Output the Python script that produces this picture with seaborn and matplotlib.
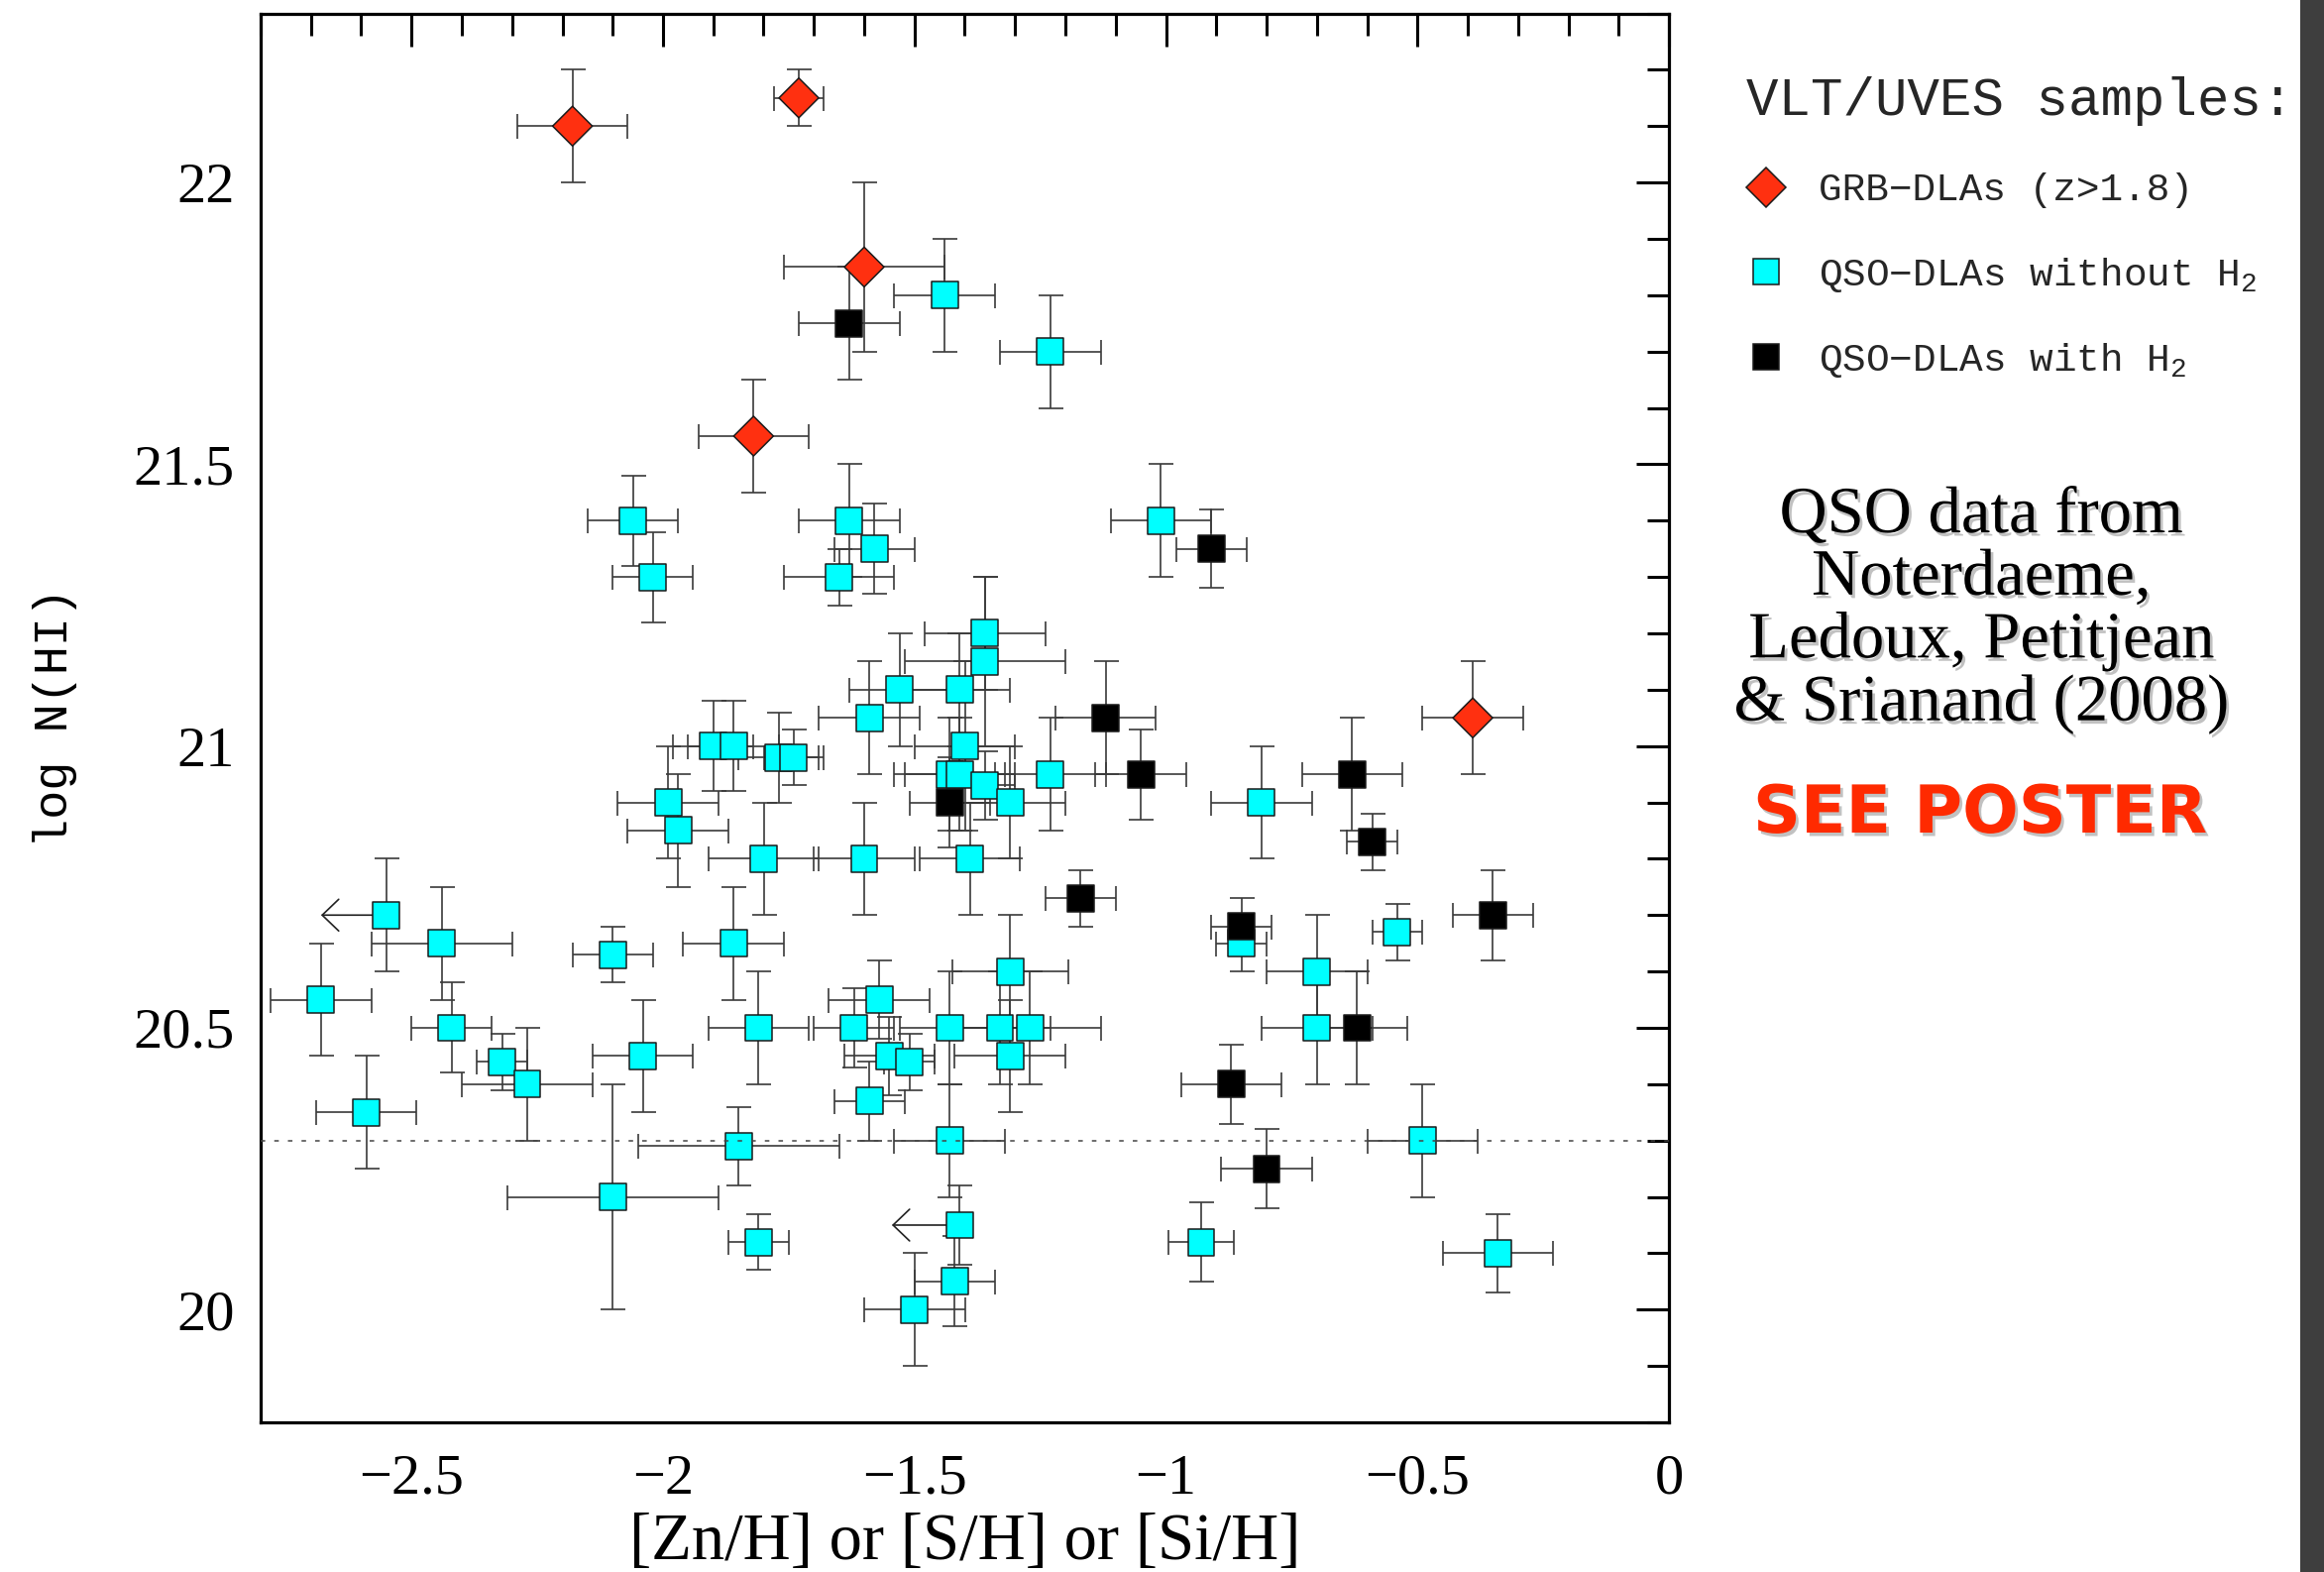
import numpy as np
import pandas as pd
import matplotlib
matplotlib.use("Agg")
import matplotlib.pyplot as plt
import seaborn as sns
from matplotlib.lines import Line2D
from matplotlib.ticker import MultipleLocator, FuncFormatter
from matplotlib.font_manager import FontProperties
from matplotlib.patches import Rectangle
import matplotlib.patheffects as pe

# ---- GRB-DLAs (z>1.8) ----
grb_x = [-2.18, -1.73, -1.60, -1.82, -0.39]
grb_y = [22.10, 22.15, 21.85, 21.55, 21.05]
grb_xerr = [0.11, 0.05, 0.16, 0.11, 0.10]
grb_yerr = [0.10, 0.05, 0.15, 0.10, 0.10]

# ---- QSO-DLAs with H2 ----
h2_x = [-1.63, -0.91, -1.12, -1.05, -1.43, -0.63, -0.59, -1.17, -0.85, -0.35, -0.62, -0.87, -0.80]
h2_y = [21.75, 21.35, 21.05, 20.95, 20.90, 20.95, 20.83, 20.73, 20.68, 20.70, 20.50, 20.40, 20.25]
h2_xerr = [0.10, 0.07, 0.10, 0.09, 0.08, 0.10, 0.05, 0.07, 0.06, 0.08, 0.10, 0.10, 0.09]
h2_yerr = [0.10, 0.07, 0.10, 0.08, 0.08, 0.10, 0.05, 0.05, 0.05, 0.08, 0.10, 0.07, 0.07]

# ---- QSO-DLAs without H2 ----
noh2_x = [-1.44, -1.23, -2.06, -2.02, -1.63, -1.58, -1.65, -1.01, -1.36, -1.36,
          -1.53, -1.41, -1.59, -1.40, -1.90, -1.86, -1.77, -1.74, -1.43, -1.41,
          -1.36, -1.31, -1.23, -1.99, -1.97, -1.80, -1.60, -1.39, -0.81, -2.68,
          -2.44, -2.10, -1.86, -2.42, -2.32, -2.27, -2.04, -2.59, -2.10, -1.85,
          -1.81, -1.81, -1.57, -1.62, -1.55, -1.51, -1.59, -1.43, -1.33, -1.27,
          -1.31, -1.31, -1.43, -1.42, -1.50, -0.85, -0.70, -0.70, -0.54, -0.49,
          -0.93, -0.34]
noh2_y = [21.80, 21.70, 21.40, 21.30, 21.40, 21.35, 21.30, 21.40, 21.20, 21.15,
          21.10, 21.10, 21.05, 21.00, 21.00, 21.00, 20.98, 20.98, 20.95, 20.95,
          20.93, 20.90, 20.95, 20.90, 20.85, 20.80, 20.80, 20.80, 20.90, 20.55,
          20.65, 20.63, 20.65, 20.50, 20.44, 20.40, 20.45, 20.35, 20.20, 20.29,
          20.50, 20.12, 20.55, 20.50, 20.45, 20.44, 20.37, 20.50, 20.50, 20.50,
          20.60, 20.45, 20.30, 20.05, 20.00, 20.65, 20.60, 20.50, 20.67, 20.30,
          20.12, 20.10]
noh2_xerr = [0.10, 0.10, 0.09, 0.08, 0.10, 0.08, 0.11, 0.10, 0.12, 0.16,
             0.10, 0.10, 0.10, 0.10, 0.08, 0.09, 0.08, 0.06, 0.11, 0.11,
             0.06, 0.11, 0.11, 0.10, 0.10, 0.11, 0.10, 0.10, 0.10, 0.10,
             0.14, 0.08, 0.10, 0.08, 0.05, 0.13, 0.10, 0.10, 0.21, 0.20,
             0.10, 0.06, 0.10, 0.08, 0.09, 0.05, 0.07, 0.10, 0.10, 0.14,
             0.115, 0.11, 0.11, 0.08, 0.10, 0.05, 0.10, 0.11, 0.05, 0.11,
             0.065, 0.11]
noh2_yerr = [0.10, 0.10, 0.08, 0.08, 0.10, 0.08, 0.05, 0.10, 0.10, 0.15,
             0.10, 0.10, 0.10, 0.15, 0.08, 0.08, 0.08, 0.05, 0.10, 0.10,
             0.06, 0.10, 0.10, 0.10, 0.10, 0.10, 0.10, 0.10, 0.10, 0.10,
             0.10, 0.05, 0.10, 0.08, 0.05, 0.10, 0.10, 0.10, 0.20, 0.07,
             0.10, 0.05, 0.07, 0.07, 0.07, 0.05, 0.07, 0.10, 0.10, 0.10,
             0.10, 0.10, 0.10, 0.08, 0.10, 0.05, 0.10, 0.10, 0.05, 0.10,
             0.07, 0.07]

# QSO-DLAs without H2 with only an upper limit on the metallicity
lim_x = [-2.55, -1.41]
lim_y = [20.70, 20.15]
lim_yerr = [0.10, 0.07]
lim_to = [-2.68, -1.545]

DLA_THRESHOLD = 20.3

CYAN = "#00ffff"
BLACK = "#000000"
RED = "#ff3010"
EDGE = "#1a1a1a"
ERR = "#3a3a3a"

sns.set_theme(style="white")
plt.rcParams["font.family"] = ["Liberation Serif", "DejaVu Serif"]
plt.rcParams["mathtext.fontset"] = "custom"
plt.rcParams["mathtext.rm"] = "Liberation Mono"
plt.rcParams["mathtext.it"] = "Liberation Mono"
plt.rcParams["axes.unicode_minus"] = True

fig = plt.figure(figsize=(23.45, 15.86), dpi=100)
fig.patch.set_facecolor("white")
ax = fig.add_axes([263 / 2345, 1 - 1435 / 1586, (1684 - 263) / 2345, (1435 - 13.5) / 1586])
ax.set_facecolor("white")

# error bars first, markers on top
err_kw = dict(fmt="none", ecolor=ERR, elinewidth=1.2, capsize=9, capthick=1.2, zorder=2)
ax.errorbar(noh2_x, noh2_y, xerr=noh2_xerr, yerr=noh2_yerr, **err_kw)
ax.errorbar(lim_x, lim_y, yerr=lim_yerr, **err_kw)
ax.errorbar(h2_x, h2_y, xerr=h2_xerr, yerr=h2_yerr, **err_kw)
ax.errorbar(grb_x, grb_y, xerr=grb_xerr, yerr=grb_yerr, **err_kw)

for x0, y0, x1 in zip(lim_x, lim_y, lim_to):
    ax.annotate("", xy=(x1, y0), xytext=(x0, y0),
                arrowprops=dict(arrowstyle="->,head_length=1.2,head_width=1.15",
                                color="#222222", lw=1.2, shrinkA=0, shrinkB=0,
                                mutation_scale=10),
                zorder=2)

df = pd.concat([
    pd.DataFrame({"metal": noh2_x + lim_x, "logNHI": noh2_y + lim_y, "sample": "noH2"}),
    pd.DataFrame({"metal": h2_x, "logNHI": h2_y, "sample": "H2"}),
    pd.DataFrame({"metal": grb_x, "logNHI": grb_y, "sample": "GRB"}),
], ignore_index=True)

sns.scatterplot(data=df, x="metal", y="logNHI", hue="sample", style="sample", size="sample",
                palette={"noH2": CYAN, "H2": BLACK, "GRB": RED},
                markers={"noH2": "s", "H2": "s", "GRB": "D"},
                sizes={"noH2": 19.4 ** 2, "H2": 19.4 ** 2, "GRB": 20.4 ** 2},
                edgecolor=EDGE, linewidth=1.1, legend=False, ax=ax, zorder=3)

ax.axhline(DLA_THRESHOLD, color="#444444", lw=1.1, dashes=(3, 6), zorder=4)

ax.set_xlim(-2.8, 0)
ax.set_ylim(19.8, 22.3)
ax.xaxis.set_major_locator(MultipleLocator(0.5))
ax.xaxis.set_minor_locator(MultipleLocator(0.1))
ax.yaxis.set_major_locator(MultipleLocator(0.5))
ax.yaxis.set_minor_locator(MultipleLocator(0.1))
fmt = FuncFormatter(lambda v, p: f"{v:g}".replace("-", "\u2212"))
ax.xaxis.set_major_formatter(fmt)
ax.yaxis.set_major_formatter(fmt)
ax.tick_params(which="both", direction="in", top=True, right=True, color="black",
               labelcolor="black", labelsize=42, width=2.2)
ax.tick_params(which="major", length=24)
ax.tick_params(which="minor", length=15.5)
ax.tick_params(axis="x", pad=23)
ax.tick_params(axis="y", pad=19)
for sp in ax.spines.values():
    sp.set_color("black")
    sp.set_linewidth(2.3)
    sp.set_visible(True)

ax.set_xlabel("[Zn/H] or [S/H] or [Si/H]", fontsize=48, color="black")
ax.xaxis.set_label_coords(0.5, -0.064)
ax.set_ylabel("log N(HI)", fontsize=35, family="Liberation Mono", color="black")
ax.yaxis.set_label_coords(-0.13, 0.5)

# legend
handles = [
    Line2D([], [], ls="none", marker="D", markersize=20.4, mfc=RED, mec=EDGE, mew=1.1),
    Line2D([], [], ls="none", marker="s", markersize=19.4, mfc=CYAN, mec=EDGE, mew=1.1),
    Line2D([], [], ls="none", marker="s", markersize=19.4, mfc=BLACK, mec=EDGE, mew=1.1),
]
labels = ["GRB\u2212DLAs (z>1.8)", "QSO\u2212DLAs without H$_2$", "QSO\u2212DLAs with H$_2$"]
fig.legend(handles, labels, title="VLT/UVES samples:", loc="upper left",
           bbox_to_anchor=(1762 / 2345, 1 - 77 / 1586), frameon=False,
           prop=FontProperties(family="Liberation Mono", size=28.4),
           title_fontproperties=FontProperties(family="Liberation Mono", size=39),
           alignment="left", handlelength=1.0, handletextpad=0.85,
           labelspacing=1.2, borderpad=0, borderaxespad=0)

shadow = [pe.withSimplePatchShadow(offset=(2, -2.5), shadow_rgbFace="0.4", alpha=0.4)]
fig.text(1999 / 2345, 1 - 490 / 1586,
         "QSO data from\nNoterdaeme,\nLedoux, Petitjean\n& Srianand (2008)",
         ha="center", va="top", multialignment="center", fontsize=48,
         family="Liberation Serif", color="black", linespacing=1.04, path_effects=shadow)
fig.text(1998 / 2345, 1 - 840 / 1586, "SEE POSTER", ha="center", va="baseline",
         fontsize=48, weight="bold", family="DejaVu Sans", color="#ff2a00",
         path_effects=shadow)

# dark border strip on the right edge
fig.add_artist(Rectangle((2321 / 2345, 0), 24 / 2345, 1, transform=fig.transFigure,
                         facecolor="#3e3e3e", edgecolor="none", zorder=0))

fig.savefig("out.png", dpi=100, facecolor="white")
